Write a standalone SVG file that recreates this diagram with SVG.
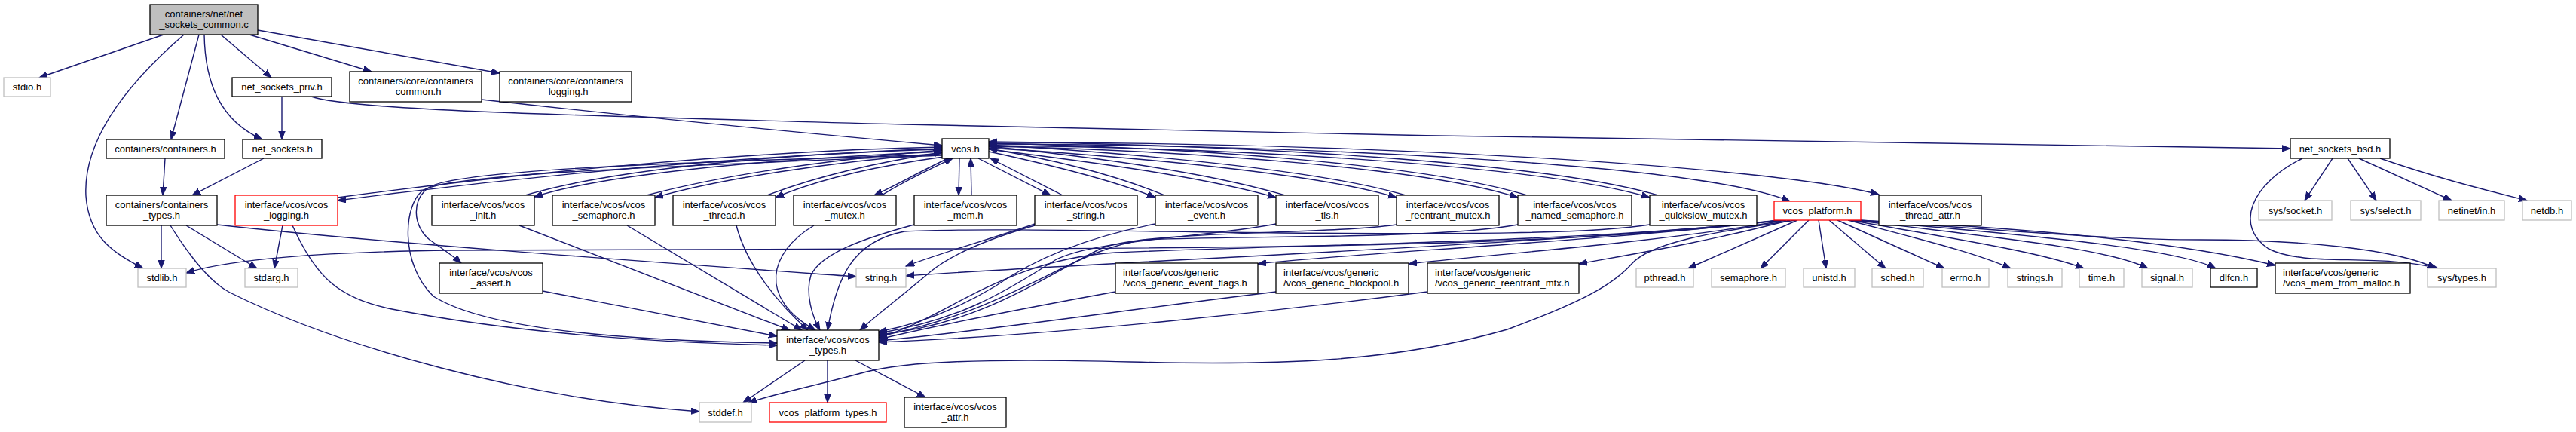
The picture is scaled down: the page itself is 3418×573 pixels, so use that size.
<svg xmlns="http://www.w3.org/2000/svg" width="3418" height="573" viewBox="0 0 3418 573">
<style>
rect{fill:#fff;stroke:#000;stroke-width:1.3}
.g rect{stroke:#bfbfbf}
.r rect{stroke:#ff0000}
.top rect{fill:#bfbfbf}
text{font-family:"Liberation Sans",Arial,sans-serif;font-size:13px;fill:#000;text-anchor:middle}
.l text{text-anchor:start}
#edges path{fill:none;stroke:#191970;stroke-width:1.4;marker-end:url(#a)}
</style>
<defs>
<marker id="a" markerWidth="13" markerHeight="11" refX="11" refY="4.5" orient="auto" markerUnits="userSpaceOnUse"><path d="M0,0.3 L11,4.5 L0,8.7z" fill="#191970" stroke="#191970" stroke-width="1"/></marker>
</defs>
<rect x="0" y="0" width="3418" height="573" style="fill:#fff;stroke:none"/>
<g id="edges">
<path d="M217,46 L52,103"/>
<path d="M244,46 C170,110 110,185 114,260 C118,315 150,335 190,356"/>
<path d="M264,46 L227,185"/>
<path d="M271,46 C272,110 292,160 348,185"/>
<path d="M293,46 L360,103"/>
<path d="M331,46 L493,95"/>
<path d="M342,40 L663,97"/>
<path d="M374,128 L374,185"/>
<path d="M413,128 C460,145 700,152 1200,165 C1800,180 2600,192 3039,197"/>
<path d="M639,132 C800,150 1050,175 1250,193"/>
<path d="M219,210 L216,259"/>
<path d="M350,210 L255,259"/>
<path d="M214,299 L214,356"/>
<path d="M247,299 L341,356"/>
<path d="M226,299 C255,345 280,375 305,388 C450,460 700,530 928,546"/>
<path d="M288,298 C500,322 900,350 1136,367"/>
<path d="M375,299 L364,356"/>
<path d="M388,299 C420,370 450,395 520,410 C700,445 900,455 1031,458"/>
<path d="M448,262 C700,228 1000,200 1250,195"/>
<path d="M1250,198 C1000,205 700,233 448,266"/>
<path d="M1250,201 C1000,212 800,232 709,261"/>
<path d="M697,259 C800,228 1000,206 1250,197"/>
<path d="M689,299 L1048,438"/>
<path d="M1250,203 C1100,215 950,238 869,262"/>
<path d="M858,259 C960,232 1100,212 1250,199"/>
<path d="M832,299 L1064,438"/>
<path d="M1252,208 C1150,222 1080,240 1029,262"/>
<path d="M1018,259 C1080,235 1160,216 1250,202"/>
<path d="M977,299 C990,350 1030,400 1072,438"/>
<path d="M1258,210 C1220,228 1190,245 1160,259"/>
<path d="M1170,259 C1200,240 1235,224 1264,210"/>
<path d="M1080,299 C1020,335 1005,395 1082,438"/>
<path d="M1273,210 L1272,259"/>
<path d="M1289,259 L1288,210"/>
<path d="M1213,298 C1150,315 1090,335 1076,365 C1068,390 1078,420 1088,438"/>
<path d="M1298,210 L1394,259"/>
<path d="M1410,259 L1314,210"/>
<path d="M1373,297 C1320,315 1250,335 1202,353"/>
<path d="M1373,299 C1300,320 1260,340 1235,360 C1200,390 1160,420 1141,438"/>
<path d="M1312,201 C1400,220 1480,240 1533,262"/>
<path d="M1545,259 C1480,232 1400,212 1312,197"/>
<path d="M1533,297 C1440,315 1370,345 1320,380 C1270,410 1220,430 1166,440"/>
<path d="M1312,198 C1450,215 1600,235 1693,262"/>
<path d="M1705,259 C1600,228 1450,208 1312,194"/>
<path d="M1693,297 C1600,315 1450,318 1400,345 C1330,390 1270,425 1166,442"/>
<path d="M1312,196 C1500,208 1750,230 1853,262"/>
<path d="M1865,259 C1750,225 1500,203 1312,192"/>
<path d="M1853,298 C1750,312 1520,305 1460,330 C1380,370 1300,430 1166,444"/>
<path d="M1312,194 C1600,200 1900,225 2014,262"/>
<path d="M2026,259 C1900,220 1600,196 1312,190"/>
<path d="M2014,298 C1900,318 1650,312 1520,318 C1420,330 1350,410 1166,446"/>
<path d="M1312,193 C1650,196 2050,220 2189,262"/>
<path d="M2200,259 C2050,215 1650,192 1312,188"/>
<path d="M2189,298 C2100,312 1900,310 1700,309 C1500,307 1300,302 1200,307 C1130,320 1110,370 1098,438"/>
<path d="M1312,191 C1700,192 2250,215 2375,267"/>
<path d="M1312,189 C1800,188 2350,220 2493,258"/>
<path d="M2360,292 C2100,322 1700,325 1480,335 C1330,345 1260,420 1166,448"/>
<path d="M2362,292 C2100,325 1700,330 1200,330 L600,332 C420,334 300,345 247,362"/>
<path d="M2364,292 C2050,325 1500,345 1202,366"/>
<path d="M2366,292 C2100,322 1800,335 1669,350"/>
<path d="M2370,292 C2200,322 1970,338 1869,350"/>
<path d="M2375,292 C2260,322 2160,338 2095,350"/>
<path d="M2383,292 C2270,308 2190,322 2165,350 C2140,378 2100,400 2000,437 C1850,480 1700,485 1500,480 C1300,475 1200,480 1150,493 C1080,512 1030,522 993,534"/>
<path d="M2385,292 L2240,356"/>
<path d="M2400,292 L2336,356"/>
<path d="M2413,292 L2423,356"/>
<path d="M2427,292 L2502,356"/>
<path d="M2438,292 L2580,356"/>
<path d="M2452,292 C2550,318 2620,335 2668,356"/>
<path d="M2455,292 C2600,318 2710,335 2765,356"/>
<path d="M2458,292 C2650,315 2800,330 2850,356"/>
<path d="M2461,292 C2700,312 2890,330 2940,356"/>
<path d="M2464,292 C2750,305 2920,328 3019,352"/>
<path d="M2467,292 C2650,305 2800,318 2920,318 C3050,318 3180,330 3232,356"/>
<path d="M1068,478 L986,534"/>
<path d="M1098,478 L1098,534"/>
<path d="M1135,478 L1228,527"/>
<path d="M1250,205 C900,215 610,225 570,248 C545,265 548,300 570,318 C590,332 602,340 612,349"/>
<path d="M1250,206 C900,220 600,230 562,252 C535,270 530,350 575,393 C650,440 850,452 1031,455"/>
<path d="M720,386 L1031,446"/>
<path d="M3095,210 L3058,266"/>
<path d="M3115,210 L3153,266"/>
<path d="M3130,210 L3253,266"/>
<path d="M3158,210 C3230,235 3290,250 3353,266"/>
<path d="M3055,210 C2985,245 2965,300 3010,330 C3060,355 3150,335 3235,356"/>
<path d="M1480,387 C1380,405 1250,430 1166,450"/>
<path d="M1693,387 C1500,410 1300,440 1166,452"/>
<path d="M1894,387 C1700,412 1400,445 1166,454"/>
</g>
<g id="n_top" class="top"><rect x="199" y="6" width="143" height="40"/><text x="270.5" y="22.5">containers/net/net</text><text x="270.5" y="37">_sockets_common.c</text></g>
<g id="n_stdio" class="g"><rect x="5" y="103" width="62" height="25"/><text x="36" y="120">stdio.h</text></g>
<g id="n_priv"><rect x="308" y="103" width="132" height="25"/><text x="374" y="120">net_sockets_priv.h</text></g>
<g id="n_ccommon"><rect x="464" y="95" width="175" height="40"/><text x="551.5" y="111.5">containers/core/containers</text><text x="551.5" y="126">_common.h</text></g>
<g id="n_clogging"><rect x="663" y="95" width="175" height="40"/><text x="750.5" y="111.5">containers/core/containers</text><text x="750.5" y="126">_logging.h</text></g>
<g id="n_cont"><rect x="141" y="185" width="157" height="25"/><text x="219.5" y="202">containers/containers.h</text></g>
<g id="n_netsock"><rect x="322" y="185" width="105" height="25"/><text x="374.5" y="202">net_sockets.h</text></g>
<g id="n_ctypes"><rect x="141" y="259" width="147" height="40"/><text x="214.5" y="275.5">containers/containers</text><text x="214.5" y="290">_types.h</text></g>
<g id="n_vlogging" class="r"><rect x="312" y="259" width="136" height="40"/><text x="380" y="275.5">interface/vcos/vcos</text><text x="380" y="290">_logging.h</text></g>
<g id="n_init"><rect x="573" y="259" width="136" height="40"/><text x="641" y="275.5">interface/vcos/vcos</text><text x="641" y="290">_init.h</text></g>
<g id="n_sem"><rect x="733" y="259" width="136" height="40"/><text x="801" y="275.5">interface/vcos/vcos</text><text x="801" y="290">_semaphore.h</text></g>
<g id="n_thread"><rect x="893" y="259" width="136" height="40"/><text x="961" y="275.5">interface/vcos/vcos</text><text x="961" y="290">_thread.h</text></g>
<g id="n_mutex"><rect x="1053" y="259" width="136" height="40"/><text x="1121" y="275.5">interface/vcos/vcos</text><text x="1121" y="290">_mutex.h</text></g>
<g id="n_mem"><rect x="1213" y="259" width="136" height="40"/><text x="1281" y="275.5">interface/vcos/vcos</text><text x="1281" y="290">_mem.h</text></g>
<g id="n_vstring"><rect x="1373" y="259" width="136" height="40"/><text x="1441" y="275.5">interface/vcos/vcos</text><text x="1441" y="290">_string.h</text></g>
<g id="n_event"><rect x="1533" y="259" width="136" height="40"/><text x="1601" y="275.5">interface/vcos/vcos</text><text x="1601" y="290">_event.h</text></g>
<g id="n_tls"><rect x="1693" y="259" width="136" height="40"/><text x="1761" y="275.5">interface/vcos/vcos</text><text x="1761" y="290">_tls.h</text></g>
<g id="n_rmutex"><rect x="1853" y="259" width="136" height="40"/><text x="1921" y="275.5">interface/vcos/vcos</text><text x="1921" y="290">_reentrant_mutex.h</text></g>
<g id="n_named"><rect x="2014" y="259" width="151" height="40"/><text x="2089.5" y="275.5">interface/vcos/vcos</text><text x="2089.5" y="290">_named_semaphore.h</text></g>
<g id="n_quick"><rect x="2189" y="259" width="142" height="40"/><text x="2260" y="275.5">interface/vcos/vcos</text><text x="2260" y="290">_quickslow_mutex.h</text></g>
<g id="n_platform" class="r"><rect x="2354" y="267" width="115" height="25"/><text x="2411.5" y="284">vcos_platform.h</text></g>
<g id="n_tattr"><rect x="2493" y="259" width="136" height="40"/><text x="2561" y="275.5">interface/vcos/vcos</text><text x="2561" y="290">_thread_attr.h</text></g>
<g id="n_vcos"><rect x="1250" y="184" width="62" height="26"/><text x="1281" y="201.5">vcos.h</text></g>
<g id="n_bsd"><rect x="3039" y="184" width="132" height="26"/><text x="3105" y="201.5">net_sockets_bsd.h</text></g>
<g id="n_stdlib" class="g"><rect x="183" y="356" width="64" height="25"/><text x="215" y="373">stdlib.h</text></g>
<g id="n_stdarg" class="g"><rect x="325" y="356" width="70" height="25"/><text x="360" y="373">stdarg.h</text></g>
<g id="n_assert"><rect x="583" y="349" width="137" height="40"/><text x="651.5" y="365.5">interface/vcos/vcos</text><text x="651.5" y="380">_assert.h</text></g>
<g id="n_string" class="g"><rect x="1136" y="356" width="66" height="25"/><text x="1169" y="373">string.h</text></g>
<g id="n_eflags" class="l"><rect x="1480" y="349" width="189" height="40"/><text x="1490" y="365.5">interface/vcos/generic</text><text x="1490" y="380">/vcos_generic_event_flags.h</text></g>
<g id="n_bpool" class="l"><rect x="1693" y="349" width="176" height="40"/><text x="1703" y="365.5">interface/vcos/generic</text><text x="1703" y="380">/vcos_generic_blockpool.h</text></g>
<g id="n_rmtx" class="l"><rect x="1894" y="349" width="201" height="40"/><text x="1904" y="365.5">interface/vcos/generic</text><text x="1904" y="380">/vcos_generic_reentrant_mtx.h</text></g>
<g id="n_pthread" class="g"><rect x="2171" y="356" width="76" height="25"/><text x="2209" y="373">pthread.h</text></g>
<g id="n_semh" class="g"><rect x="2271" y="356" width="98" height="25"/><text x="2320" y="373">semaphore.h</text></g>
<g id="n_unistd" class="g"><rect x="2393" y="356" width="68" height="25"/><text x="2427" y="373">unistd.h</text></g>
<g id="n_sched" class="g"><rect x="2484" y="356" width="68" height="25"/><text x="2518" y="373">sched.h</text></g>
<g id="n_errno" class="g"><rect x="2577" y="356" width="62" height="25"/><text x="2608" y="373">errno.h</text></g>
<g id="n_strings" class="g"><rect x="2664" y="356" width="72" height="25"/><text x="2700" y="373">strings.h</text></g>
<g id="n_time" class="g"><rect x="2759" y="356" width="59" height="25"/><text x="2788.5" y="373">time.h</text></g>
<g id="n_signal" class="g"><rect x="2842" y="356" width="67" height="25"/><text x="2875.5" y="373">signal.h</text></g>
<g id="n_dlfcn"><rect x="2933" y="356" width="62" height="25"/><text x="2964" y="373">dlfcn.h</text></g>
<g id="n_malloc" class="l"><rect x="3019" y="349" width="179" height="40"/><text x="3029" y="365.5">interface/vcos/generic</text><text x="3029" y="380">/vcos_mem_from_malloc.h</text></g>
<g id="n_systypes" class="g"><rect x="3221" y="356" width="91" height="25"/><text x="3266.5" y="373">sys/types.h</text></g>
<g id="n_socket" class="g"><rect x="2997" y="266" width="97" height="26"/><text x="3045.5" y="283.5">sys/socket.h</text></g>
<g id="n_select" class="g"><rect x="3119" y="266" width="93" height="26"/><text x="3165.5" y="283.5">sys/select.h</text></g>
<g id="n_netinet" class="g"><rect x="3236" y="266" width="87" height="26"/><text x="3279.5" y="283.5">netinet/in.h</text></g>
<g id="n_netdb" class="g"><rect x="3347" y="266" width="65" height="26"/><text x="3379.5" y="283.5">netdb.h</text></g>
<g id="n_vtypes"><rect x="1031" y="438" width="135" height="40"/><text x="1098.5" y="454.5">interface/vcos/vcos</text><text x="1098.5" y="469">_types.h</text></g>
<g id="n_stddef" class="g"><rect x="928" y="534" width="69" height="26"/><text x="962.5" y="551.5">stddef.h</text></g>
<g id="n_ptypes" class="r"><rect x="1021" y="534" width="155" height="26"/><text x="1098.5" y="551.5">vcos_platform_types.h</text></g>
<g id="n_attr"><rect x="1200" y="527" width="135" height="40"/><text x="1267.5" y="543.5">interface/vcos/vcos</text><text x="1267.5" y="558">_attr.h</text></g>
</svg>
